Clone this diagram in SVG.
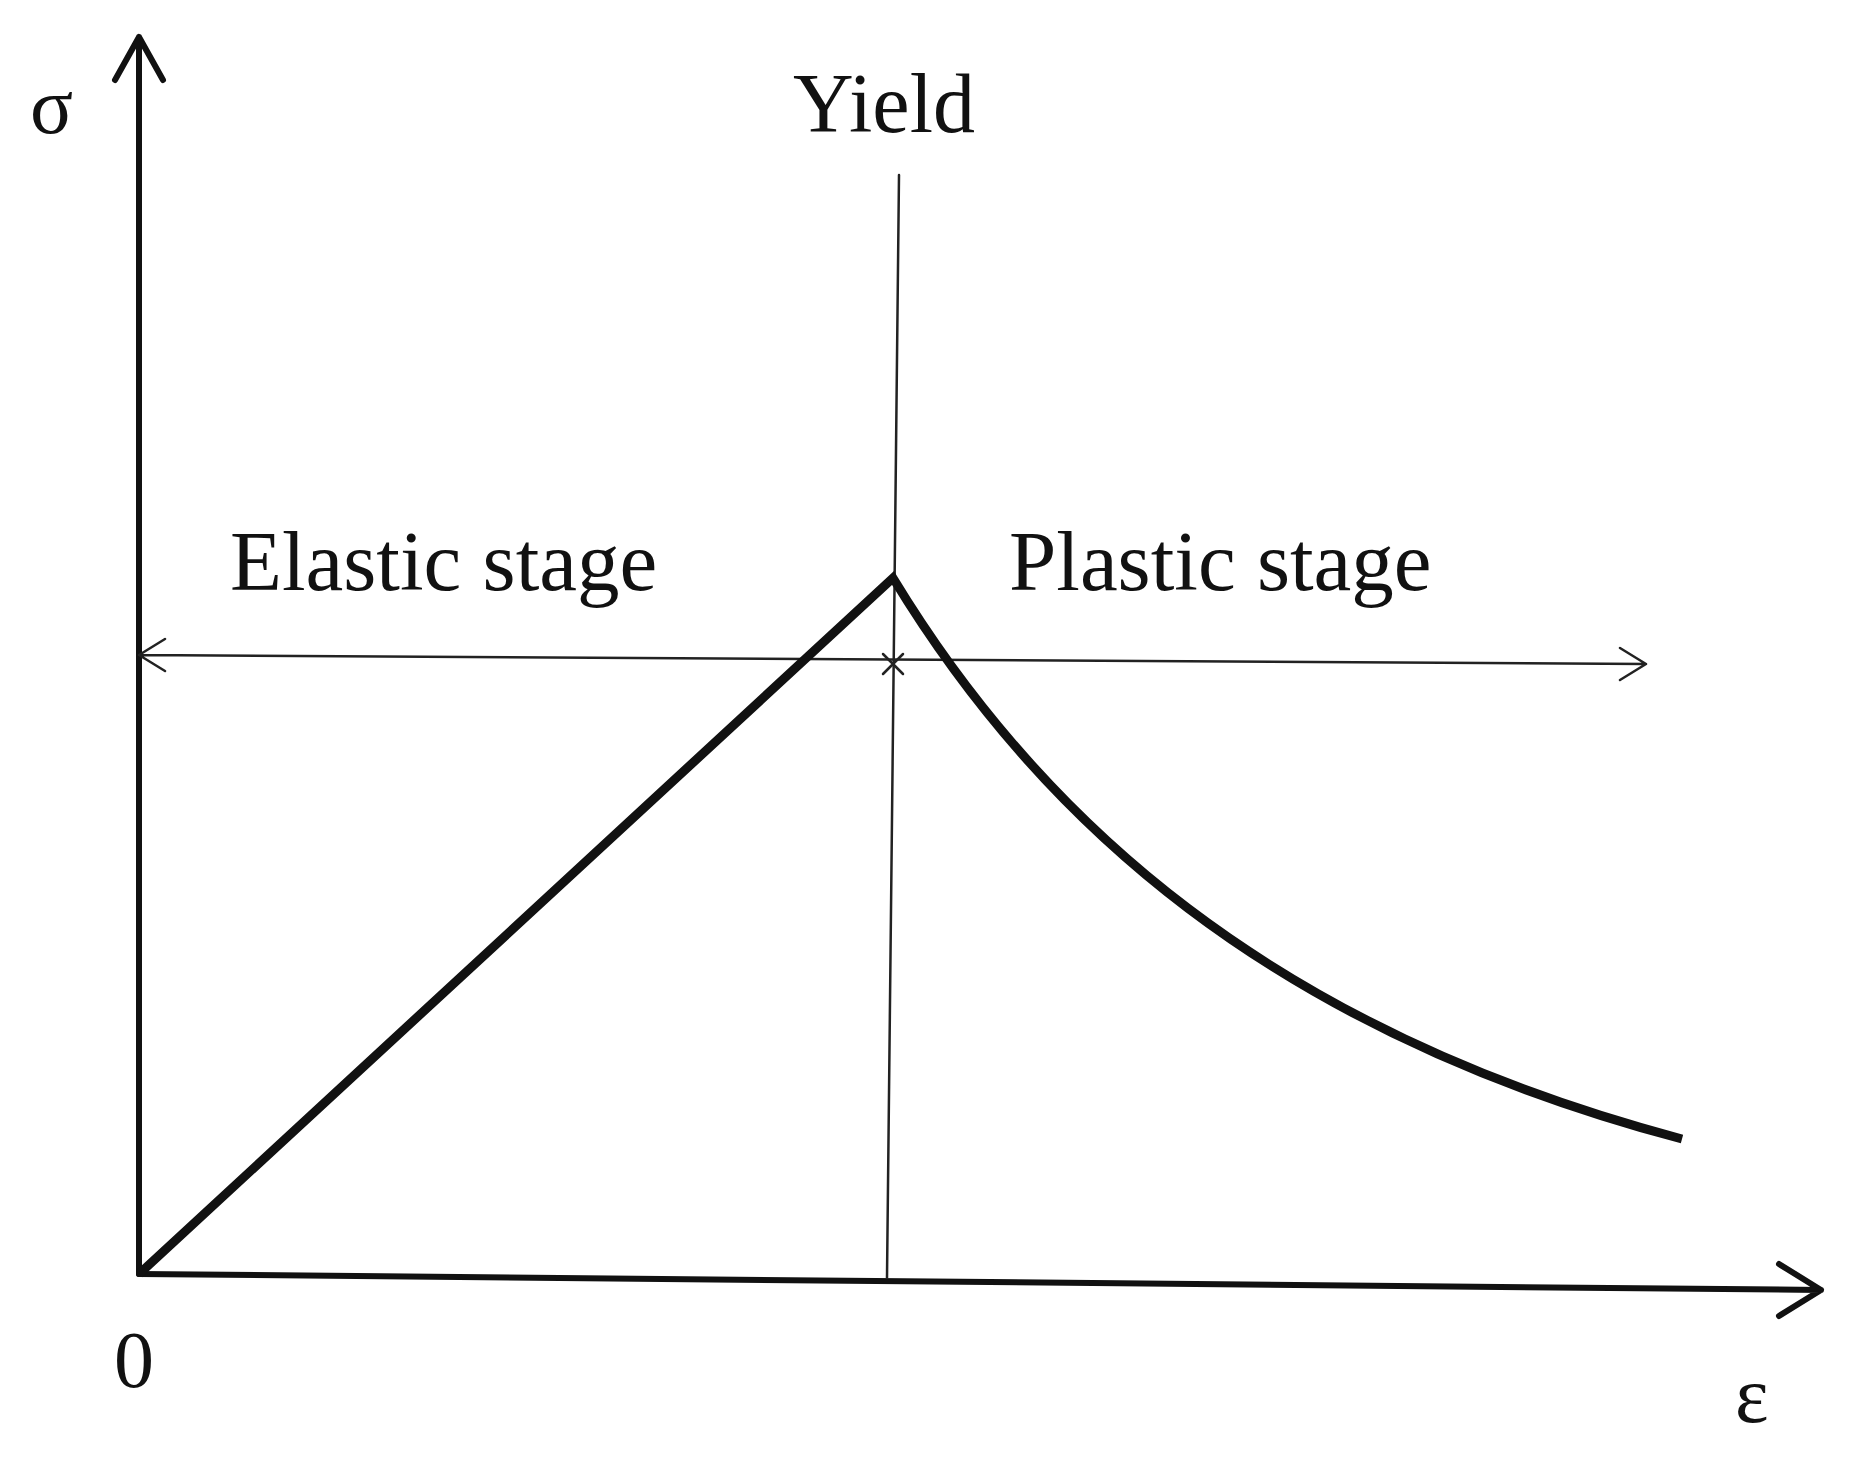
<svg xmlns="http://www.w3.org/2000/svg" width="1850" height="1457" viewBox="0 0 1850 1457">
<style>
text{font-family:"Liberation Serif","Times New Roman",serif;fill:#111}
.ax{stroke:#111;stroke-width:6;fill:none;stroke-linecap:round;stroke-linejoin:round}
.thin{stroke:#222;stroke-width:2.5;fill:none;stroke-linejoin:round;stroke-linecap:round}
.crv{stroke:#111;stroke-width:9;fill:none;stroke-linejoin:miter}
</style>
<rect width="1850" height="1457" fill="#fff"/>
<g id="connectors">
<path class="ax" d="M139,1274 L139,37 M115,80 L139,37 L163,80"/>
<path class="ax" d="M139,1274 L1821,1290 M1779,1264 L1821,1290 L1779,1316"/>
<path class="thin" d="M899,175 L887,1278"/>
<path class="thin" d="M139,655 L1646,664 M165,639 L139,655 L165,671 M1620,648 L1646,664 L1620,680"/>
<path class="thin" d="M883,654 L903,674 M903,654 L883,674"/>
<path class="crv" d="M139,1274 L893,578 C1040,820 1270,1030 1682,1139"/>
</g>
<g id="labels">
<text x="30" y="133" font-size="80">σ</text>
<text x="884" y="132" font-size="84" text-anchor="middle">Yield</text>
<text x="230" y="590" font-size="85">Elastic stage</text>
<text x="1009" y="590" font-size="85">Plastic stage</text>
<text x="114" y="1387" font-size="80">0</text>
<text x="1735" y="1422" font-size="80">ε</text>
</g>
</svg>
